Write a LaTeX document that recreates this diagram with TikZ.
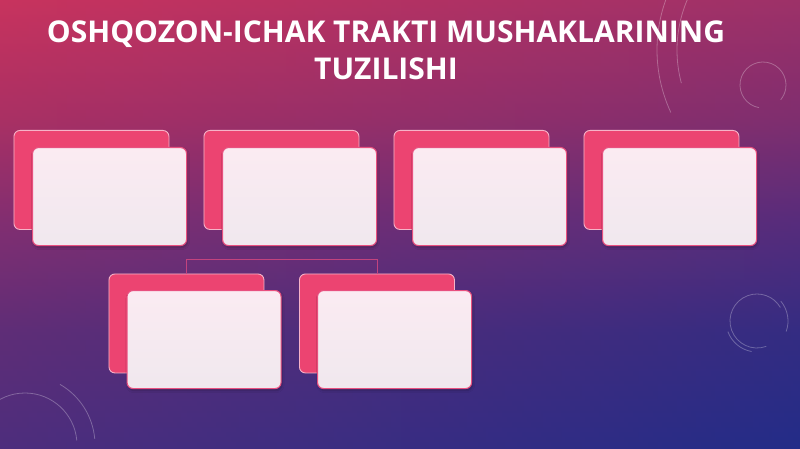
\documentclass[tikz,border=0pt]{standalone}
\usepackage{fontspec}
\setmainfont{Open Sans}
\usetikzlibrary{shadows.blur}
\definecolor{bgtop}{HTML}{C8335E}
\definecolor{bgmid}{HTML}{6C2C78}
\definecolor{bgbot}{HTML}{232C88}
\definecolor{backfill}{HTML}{EC4471}
\definecolor{backline}{HTML}{F6B3C8}
\definecolor{fronttop}{HTML}{FBEBF2}
\definecolor{frontbot}{HTML}{F0E8EE}
\definecolor{frontline}{HTML}{E8507F}
\definecolor{linkcol}{HTML}{C2437E}
\pgfdeclareverticalshading{bgshade}{100bp}{%
  color(0bp)=(bgbot); color(25bp)=(bgbot);
  color(38bp)=(rgb,255:red,58;green,44;blue,128);
  color(50bp)=(rgb,255:red,104;green,45;blue,120);
  color(62bp)=(rgb,255:red,160;green,47;blue,102);
  color(75bp)=(bgtop); color(100bp)=(bgtop)}
\tikzset{
  backcard/.style={draw=backline, line width=0.9pt, fill=backfill, rounded corners=6pt,
    minimum width=155pt, minimum height=99pt, inner sep=0pt, anchor=north west},
  frontcard/.style={draw=frontline, line width=1.1pt, top color=fronttop, bottom color=frontbot,
    rounded corners=6pt, minimum width=154pt, minimum height=98pt, inner sep=0pt, anchor=north west,
    blur shadow={shadow xshift=1pt, shadow yshift=-2pt, shadow opacity=25, shadow blur steps=5}},
  deco/.style={draw=white, draw opacity=0.28, line width=0.8pt},
  titletext/.style={text=white, font=\fontsize{30}{33}\selectfont\bfseries, inner sep=0pt},
  linkline/.style={draw=linkcol, line width=0.9pt}
}
\begin{document}
\begin{tikzpicture}[x=1pt,y=-1pt]
\useasboundingbox (0,0) rectangle (800,449);
\shade[shading=bgshade] (0,0) rectangle (800,449);
\shade[left color=bgtop, right color=bgbot, opacity=0.26] (0,0) rectangle (800,449);
% decorative rings
\draw[deco] (805,50) ++(155:148) arc[start angle=155, end angle=262, radius=148];
\draw[deco] (805,50) ++(165:128) arc[start angle=165, end angle=215, radius=128];
\draw[deco] (763,85) ++(100:23) arc[start angle=100, end angle=400, radius=23];
\draw[deco] (757,321) ++(70:27) arc[start angle=70, end angle=330, radius=27];
\draw[deco] (757,321) ++(100:31) arc[start angle=100, end angle=160, radius=31];
\draw[deco] (757,321) ++(-40:31) arc[start angle=-40, end angle=20, radius=31];
\draw[deco] (25,445) ++(180:52) arc[start angle=180, end angle=355, radius=52];
\draw[deco] (25,445) ++(300:70) arc[start angle=300, end angle=355, radius=70];
% title
\node[titletext] (title1) at (386,34) {OSHQOZON-ICHAK TRAKTI MUSHAKLARINING};
\node[titletext] (title2) at (386,69) {TUZILISHI};
% top row
\foreach \i in {0,1,2,3}{
  \node[backcard] (tb\i) at (13.5+190*\i,130) {};
  \node[frontcard] (tf\i) at (32+190*\i,147) {};
}
% bottom row
\node[backcard] (bb1) at (108.5,273.5) {};
\node[backcard] (bb2) at (299,273.5) {};
\draw[linkline] (bb1.north) -- ++(0,-14) -| (bb2.north);
\node[frontcard] (bf1) at (126.5,290) {};
\node[frontcard] (bf2) at (317,290) {};
\end{tikzpicture}
\end{document}
